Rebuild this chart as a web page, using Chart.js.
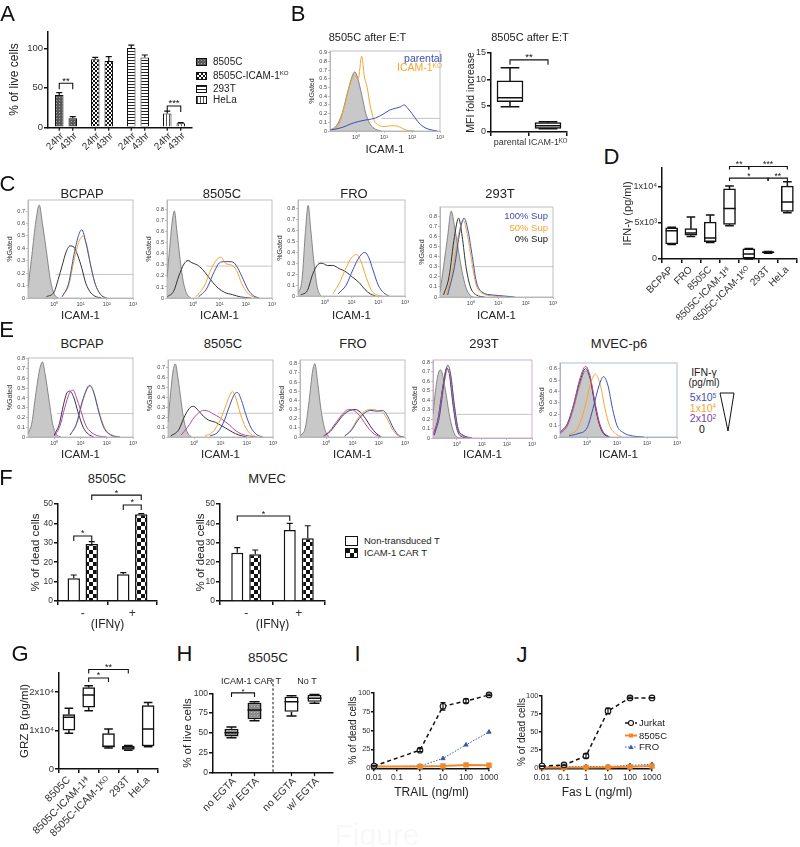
<!DOCTYPE html>
<html><head><meta charset="utf-8">
<script src="https://cdn.jsdelivr.net/npm/chart.js@4.4.1/dist/chart.umd.min.js"></script>
<style>
html,body{margin:0;padding:0;background:#fff}
body{position:relative;width:800px;height:847px;overflow:hidden;font-family:"Liberation Sans",Arial,Helvetica,sans-serif;color:#222}
canvas{position:absolute}
.t{position:absolute;white-space:nowrap;line-height:1;transform:translate(-50%,-50%)}
.r{position:absolute;white-space:nowrap;line-height:1;transform:translate(-100%,-50%)}
.l{position:absolute;white-space:nowrap;line-height:1;transform:translate(0,-50%)}
.sw{position:absolute;box-sizing:border-box;border:1px solid #111;image-rendering:pixelated}
sup{font-size:62%;vertical-align:0;position:relative;top:-0.5em}
</style></head><body>
<script>
// ======================= DATA =======================
// Panel A
const aCells = ['8505C', '8505C-ICAM-1ᴷᴼ', '293T', 'HeLa'];
const aLegend = ['8505C', '8505C-ICAM-1<sup>KO</sup>', '293T', 'HeLa'];
const aTimes = ['24hr', '43hr'];
const aLive24 = [41, 86, 100.5, 17.5];
const aLive43 = [11.4, 84, 88.5, 5];
const aErr24 = [3, 2.5, 3.5, 3];
const aErr43 = [2, 5.5, 3, 1];
const aSig = [['**', 0, 55.7], ['***', 3, 27]];
const aTicks = [0, 50, 100];

// Histogram axis ticks
const hXT = [0, 1, 2, 3];
const hXL = ['10⁰', '10¹', '10²', '10³'];
const hYT = [0, 0.1, 0.2, 0.3, 0.4, 0.5, 0.6, 0.7, 0.8, 0.9];
const hYL = ['0', '0.1', '0.2', '0.3', '0.4', '0.5', '0.6', '0.7', '0.8', '0.9'];

// Panel B histogram  [log10 ICAM-1, %Gated]
const bIso = [[-0.93,0.01],[-0.7,0.06],[-0.5,0.2],[-0.3,0.45],[-0.15,0.62],[-0.05,0.68],[0.05,0.62],[0.2,0.42],[0.35,0.2],[0.5,0.08],[0.7,0.02],[0.9,0]];
const bKO = [[-0.93,0.01],[-0.6,0.08],[-0.4,0.3],[-0.2,0.55],[-0.05,0.64],[0.08,0.6],[0.2,0.86],[0.3,0.62],[0.4,0.5],[0.5,0.3],[0.65,0.12],[0.8,0.07],[1.0,0.05],[1.2,0.06],[1.4,0.06],[1.6,0.04],[1.8,0.01],[2.1,0]];
const bPar = [[-0.93,0.01],[-0.5,0.04],[-0.2,0.08],[0.1,0.11],[0.4,0.13],[0.7,0.15],[1.0,0.2],[1.2,0.24],[1.4,0.26],[1.6,0.28],[1.72,0.3],[1.85,0.26],[2.0,0.2],[2.2,0.11],[2.4,0.05],[2.6,0.02],[2.9,0]];
const bGate = [0.9, 0.145];

// Panel B box plot (MFI fold increase)
const bCats = ['parental', 'ICAM-1ᴷᴼ'];
const bMin = [4.8, 0.6];
const bQ1 = [5.75, 0.7];
const bMed = [6.5, 1.2];
const bQ3 = [9.7, 1.77];
const bMax = [12.2, 1.95];
const bTicks = [0, 5, 10, 15];

// Panel C histograms (0%, 50%, 100% Sup)
const cbIso = [[-1,0.08],[-0.85,0.35],[-0.7,0.62],[-0.57,0.75],[-0.45,0.6],[-0.3,0.38],[-0.15,0.15],[0,0.03],[0.15,0]];
const cb0 = [[-0.3,0.01],[0,0.05],[0.15,0.15],[0.3,0.26],[0.45,0.37],[0.6,0.42],[0.75,0.41],[0.9,0.34],[1.05,0.24],[1.2,0.12],[1.4,0.04],[1.6,0.01],[1.8,0]];
const cb50 = [[0.3,0.01],[0.55,0.1],[0.75,0.3],[0.95,0.46],[1.1,0.5],[1.25,0.42],[1.4,0.25],[1.6,0.09],[1.8,0.02],[2.0,0]];
const cb100 = [[0.3,0.01],[0.55,0.12],[0.75,0.35],[0.95,0.52],[1.05,0.55],[1.2,0.45],[1.35,0.3],[1.55,0.12],[1.8,0.02],[2.0,0]];
const c8Iso = [[-1,0.18],[-0.9,0.45],[-0.8,0.7],[-0.72,0.79],[-0.62,0.6],[-0.5,0.35],[-0.38,0.15],[-0.25,0.04],[-0.1,0]];
const c80 = [[-1,0.01],[-0.75,0.06],[-0.55,0.2],[-0.35,0.31],[-0.2,0.34],[-0.05,0.32],[0.15,0.3],[0.35,0.26],[0.55,0.2],[0.75,0.14],[0.95,0.09],[1.2,0.05],[1.5,0.03],[1.8,0.01],[2.2,0]];
const c850 = [[0.1,0.01],[0.4,0.1],[0.7,0.27],[0.9,0.35],[1.05,0.37],[1.25,0.31],[1.45,0.3],[1.65,0.25],[1.85,0.13],[2.05,0.05],[2.3,0.01],[2.5,0]];
const c8100 = [[0.2,0.01],[0.5,0.08],[0.8,0.24],[1.0,0.32],[1.2,0.33],[1.4,0.33],[1.55,0.32],[1.7,0.27],[1.9,0.17],[2.1,0.07],[2.3,0.02],[2.5,0]];
const cfIso = [[-1,0.02],[-0.85,0.15],[-0.72,0.6],[-0.62,0.83],[-0.52,0.6],[-0.4,0.3],[-0.28,0.08],[-0.15,0]];
const cf0 = [[-0.9,0.01],[-0.65,0.05],[-0.45,0.2],[-0.25,0.29],[-0.1,0.3],[0.1,0.28],[0.3,0.28],[0.55,0.25],[0.8,0.22],[1.05,0.17],[1.3,0.12],[1.5,0.06],[1.7,0.02],[1.9,0]];
const cf50 = [[0.3,0.02],[0.55,0.12],[0.8,0.26],[1.0,0.35],[1.2,0.38],[1.35,0.32],[1.55,0.17],[1.75,0.05],[1.95,0.01],[2.15,0]];
const cf100 = [[0.5,0.02],[0.8,0.1],[1.05,0.24],[1.3,0.36],[1.5,0.4],[1.65,0.35],[1.8,0.24],[2.0,0.1],[2.2,0.03],[2.4,0]];
const ctIso = [[-1.13,0.05],[-1.0,0.3],[-0.85,0.6],[-0.72,0.85],[-0.6,0.7],[-0.45,0.45],[-0.3,0.22],[-0.15,0.07],[0,0.01],[0.1,0]];
const ct0 = [[-1.0,0.02],[-0.8,0.2],[-0.6,0.6],[-0.45,0.78],[-0.32,0.6],[-0.18,0.3],[-0.02,0.1],[0.2,0.02],[0.5,0]];
const ct50 = [[-0.9,0.02],[-0.65,0.3],[-0.45,0.62],[-0.28,0.76],[-0.12,0.6],[0.03,0.35],[0.18,0.13],[0.4,0.04],[0.8,0.01],[1.2,0]];
const ct100 = [[-0.85,0.02],[-0.6,0.3],[-0.4,0.65],[-0.25,0.78],[-0.1,0.65],[0.05,0.4],[0.2,0.15],[0.4,0.05],[0.8,0.02],[1.2,0.01],[1.6,0]];

// Panel D box plot (IFN-γ)
const dCats = ['BCPAP', 'FRO', '8505C', '8505C-ICAM-1ᴴⁱ', '8505C-ICAM-1ᴷᴼ', '293T', 'HeLa'];
const dMin = [2000, 3100, 2300, 4600, 0, 800, 6400];
const dQ1 = [2100, 3300, 2400, 4800, 100, 850, 6600];
const dMed = [3900, 3600, 2900, 7000, 700, 950, 7900];
const dQ3 = [4300, 4200, 5100, 9700, 1400, 1000, 10100];
const dMax = [4400, 5800, 6100, 10100, 1450, 1050, 10700];
const dTicks = [0, 5000, 10000];
const dTickLabels = ['0', '5x10³', '1x10⁴'];

// Panel E histograms (IFN-γ 0, 2x10², 1x10⁴, 5x10⁵ pg/ml)
const ebIso = [[-1,0.03],[-0.85,0.15],[-0.7,0.45],[-0.55,0.7],[-0.45,0.77],[-0.35,0.65],[-0.2,0.38],[-0.05,0.12],[0.1,0.02],[0.25,0]];
const eb0 = [[0,0.02],[0.2,0.14],[0.35,0.33],[0.5,0.46],[0.6,0.47],[0.75,0.4],[0.9,0.26],[1.1,0.1],[1.3,0.03],[1.5,0]];
const eb2 = [[0,0.01],[0.2,0.1],[0.4,0.3],[0.58,0.45],[0.72,0.48],[0.85,0.4],[1.0,0.28],[1.2,0.12],[1.4,0.05],[1.7,0.01],[2.0,0]];
const eb4 = [[0.6,0.02],[0.85,0.13],[1.05,0.33],[1.25,0.49],[1.38,0.52],[1.55,0.42],[1.75,0.22],[1.95,0.08],[2.2,0.02],[2.5,0]];
const eb5 = [[0.6,0.02],[0.85,0.14],[1.05,0.35],[1.25,0.5],[1.35,0.53],[1.5,0.46],[1.7,0.25],[1.9,0.09],[2.15,0.02],[2.5,0]];
const e8Iso = [[-1,0.15],[-0.9,0.45],[-0.8,0.68],[-0.72,0.74],[-0.62,0.6],[-0.5,0.36],[-0.38,0.15],[-0.25,0.04],[-0.1,0]];
const e80 = [[-0.9,0.01],[-0.6,0.07],[-0.35,0.22],[-0.15,0.3],[-0.02,0.31],[0.15,0.27],[0.35,0.21],[0.55,0.17],[0.8,0.15],[1.0,0.12],[1.2,0.09],[1.45,0.05],[1.7,0.02],[2.0,0]];
const e82 = [[-0.5,0.02],[-0.25,0.1],[0,0.2],[0.2,0.25],[0.35,0.27],[0.55,0.26],[0.75,0.23],[0.95,0.2],[1.15,0.16],[1.35,0.12],[1.55,0.07],[1.8,0.03],[2.1,0.01],[2.4,0]];
const e84 = [[0.4,0.01],[0.7,0.05],[0.95,0.15],[1.15,0.28],[1.35,0.42],[1.45,0.46],[1.58,0.4],[1.75,0.24],[1.95,0.1],[2.15,0.03],[2.4,0]];
const e85 = [[0.6,0.01],[0.9,0.05],[1.15,0.17],[1.35,0.32],[1.55,0.44],[1.65,0.45],[1.8,0.37],[1.95,0.24],[2.15,0.1],[2.35,0.03],[2.6,0]];
const efIso = [[-1,0.01],[-0.8,0.1],[-0.65,0.4],[-0.52,0.72],[-0.43,0.8],[-0.33,0.6],[-0.2,0.3],[-0.05,0.08],[0.1,0]];
const ef0 = [[-0.1,0.01],[0.15,0.06],[0.4,0.15],[0.65,0.24],[0.9,0.29],[1.1,0.3],[1.3,0.27],[1.5,0.2],[1.7,0.11],[1.9,0.04],[2.1,0]];
const ef2 = [[-0.1,0.01],[0.15,0.07],[0.4,0.17],[0.65,0.26],[0.85,0.3],[1.05,0.29],[1.25,0.24],[1.45,0.16],[1.65,0.08],[1.9,0.02],[2.1,0]];
const ef4 = [[0.7,0.01],[0.95,0.08],[1.2,0.2],[1.45,0.28],[1.7,0.3],[1.95,0.29],[2.15,0.27],[2.35,0.18],[2.55,0.07],[2.75,0.01],[2.9,0]];
const ef5 = [[0.7,0.01],[0.95,0.07],[1.2,0.18],[1.45,0.26],[1.7,0.29],[1.95,0.28],[2.15,0.29],[2.35,0.22],[2.55,0.1],[2.75,0.02],[2.95,0]];
const etIso = [[-0.95,0.25],[-0.85,0.5],[-0.72,0.7],[-0.64,0.72],[-0.55,0.65],[-0.42,0.45],[-0.28,0.22],[-0.12,0.06],[0,0.01],[0.15,0]];
const et0 = [[-0.95,0.03],[-0.75,0.2],[-0.55,0.55],[-0.4,0.74],[-0.3,0.68],[-0.15,0.35],[0,0.1],[0.15,0.02],[0.4,0]];
const et2 = [[-0.95,0.03],[-0.75,0.2],[-0.55,0.55],[-0.4,0.73],[-0.3,0.7],[-0.15,0.38],[0,0.12],[0.2,0.03],[0.5,0]];
const et4 = [[-0.9,0.03],[-0.7,0.22],[-0.5,0.58],[-0.36,0.72],[-0.25,0.66],[-0.1,0.35],[0.05,0.1],[0.25,0.03],[0.6,0]];
const et5 = [[-0.9,0.03],[-0.7,0.22],[-0.5,0.6],[-0.36,0.77],[-0.25,0.68],[-0.1,0.35],[0.05,0.1],[0.25,0.03],[0.6,0]];
const emIso = [[-0.9,0.03],[-0.65,0.1],[-0.45,0.25],[-0.25,0.45],[-0.05,0.58],[0.1,0.52],[0.25,0.33],[0.4,0.14],[0.55,0.04],[0.75,0]];
const em0 = [[-0.9,0.04],[-0.65,0.12],[-0.45,0.28],[-0.25,0.48],[-0.05,0.6],[0.1,0.52],[0.25,0.3],[0.4,0.12],[0.55,0.03],[0.75,0]];
const em2 = [[-0.9,0.03],[-0.65,0.11],[-0.45,0.28],[-0.25,0.5],[-0.05,0.62],[0.1,0.54],[0.25,0.32],[0.4,0.13],[0.55,0.04],[0.75,0]];
const em4 = [[-0.6,0.02],[-0.3,0.08],[-0.05,0.28],[0.12,0.47],[0.28,0.55],[0.45,0.45],[0.6,0.25],[0.75,0.1],[0.95,0.03],[1.15,0]];
const em5 = [[-0.6,0.01],[-0.3,0.03],[0,0.08],[0.2,0.25],[0.4,0.45],[0.55,0.53],[0.7,0.45],[0.85,0.25],[1.0,0.1],[1.2,0.04],[1.5,0.01],[1.9,0]];

// Panel F (% of dead cells)
const fCats = ['-', '+'];
const f8Non = [11.7, 13.8];
const f8NonErr = [1.7, 0.8];
const f8Car = [29.4, 44.7];
const f8CarErr = [1.2, 0.3];
const fMvNon = [24.9, 36.6];
const fMvNonErr = [2.6, 3.4];
const fMvCar = [24.1, 32.3];
const fMvCarErr = [2.2, 6.5];
const fTicks = [0, 10, 20, 30, 40, 50];

// Panel G box plot (GRZ B)
const gCats = ['8505C', '8505C-ICAM-1ᴴⁱ', '8505C-ICAM-1ᴷᴼ', '293T', 'HeLa'];
const gMin = [9300, 15200, 5500, 4900, 5800];
const gQ1 = [10100, 16100, 5700, 5100, 6000];
const gMed = [13500, 19300, 5900, 5500, 10400];
const gQ3 = [14200, 21200, 9200, 5900, 16500];
const gMax = [15800, 21700, 10400, 6100, 17300];
const gTicks = [0, 10000, 20000];
const gTickLabels = ['0', '1x10⁴', '2x10⁴'];

// Panel H box plot (% of live cells)
const hGroups = ['ICAM-1 CAR T', 'No T'];
const hConds = ['no EGTA', 'w/ EGTA'];
const hNoMin = [44, 71.4], hNoQ1 = [45.5, 76.8], hNoMed = [50.4, 89.4], hNoQ3 = [55.5, 95.7], hNoMax = [57.6, 97];
const hWMin = [65.5, 87.4], hWQ1 = [67.2, 89.4], hWMed = [78.9, 93.7], hWQ3 = [88.1, 97.9], hWMax = [89.5, 98.5];
const hTicks = [0, 25, 50, 75, 100];

// Panels I, J (% of dead cells vs dose)
const doseTicks = [0.01, 0.1, 1, 10, 100, 1000];
const doseTickLabels = ['0.01', '0.1', '1', '10', '100', '1000'];
const pctTicks = [0, 25, 50, 75, 100];
const iDoses = [0.01, 1, 10, 100, 1000];
const iJurkat = [3, 24, 82, 89, 97];
const iJurkatErr = [1, 2, 5, 2.5, 1];
const i8505 = [2.5, 2.5, 3, 4.5, 4];
const iFRO = [2, 3, 13, 31, 48];
const jDoses = [0.01, 0.1, 1, 10, 100, 1000];
const jJurkat = [3, 4.6, 17, 79, 97, 97];
const jJurkatErr = [0.5, 1, 3, 4, 1, 0.5];
const j8505 = [1, 1, 1.2, 1.5, 2, 3];
const jFRO = [2, 2, 2.5, 2.5, 4, 5.5];

// colours
const BLUE = '#3a4fb8', ORANGE = '#f4a52e', BLACKL = '#333333', PURPLE = '#b545a8';

// ======================= HELPERS =======================
Chart.defaults.font.family = '"Liberation Sans", Arial, Helvetica, sans-serif';
Chart.defaults.color = '#333';

function T(html, x, y, size, opt) {
  opt = opt || {};
  const d = document.createElement('div');
  d.className = opt.cls || 't';
  d.innerHTML = html;
  d.style.left = x + 'px'; d.style.top = y + 'px'; d.style.fontSize = size + 'px';
  if (opt.color) d.style.color = opt.color;
  document.body.appendChild(d);
  return d;
}
function mkPat(w, h, fn) {
  const c = document.createElement('canvas'); c.width = w; c.height = h;
  const g = c.getContext('2d'); fn(g);
  return { pat: g.createPattern(c, 'repeat'), url: c.toDataURL() };
}
const P8505 = mkPat(3, 3, g => { g.fillStyle = '#5a5a5a'; g.fillRect(0, 0, 3, 3); g.fillStyle = '#a5a5a5'; g.fillRect(1, 1, 1, 1); });
const PKO = mkPat(4, 4, g => { g.fillStyle = '#fff'; g.fillRect(0, 0, 4, 4); g.fillStyle = '#111'; g.fillRect(0, 0, 2, 2); g.fillRect(2, 2, 2, 2); });
const P293 = mkPat(1, 3, g => { g.fillStyle = '#fff'; g.fillRect(0, 0, 1, 3); g.fillStyle = '#222'; g.fillRect(0, 0, 1, 1); });
const PHELA = mkPat(3, 1, g => { g.fillStyle = '#fff'; g.fillRect(0, 0, 3, 1); g.fillStyle = '#555'; g.fillRect(0, 0, 1, 1); });
const PCHK = mkPat(8, 8, g => { g.fillStyle = '#fff'; g.fillRect(0, 0, 8, 8); g.fillStyle = '#111'; g.fillRect(0, 0, 4, 4); g.fillRect(4, 4, 4, 4); });
const PDOT = mkPat(3, 3, g => { g.fillStyle = '#8a8a8a'; g.fillRect(0, 0, 3, 3); g.fillStyle = '#c2c2c2'; g.fillRect(1, 1, 1, 1); });
const aPats = [P8505, PKO, P293, PHELA];

function mk(box, plot, cfg) {
  const c = document.createElement('canvas');
  c.width = box[2]; c.height = box[3];
  c.style.left = box[0] + 'px'; c.style.top = box[1] + 'px';
  c.style.width = box[2] + 'px'; c.style.height = box[3] + 'px';
  document.body.appendChild(c);
  const l = plot[0] - box[0], t = plot[1] - box[1], r = box[0] + box[2] - plot[2], b = box[1] + box[3] - plot[3];
  const o = cfg.options;
  o.responsive = false; o.maintainAspectRatio = false; o.animation = false; o.devicePixelRatio = 1;
  o.layout = { padding: { left: 0, top: t, right: r, bottom: 0 } };
  o.plugins = Object.assign({ legend: { display: false }, tooltip: { enabled: false } }, o.plugins || {});
  o.scales.x.afterFit = s => { s.height = b; s.paddingLeft = 0; s.paddingRight = 0; s.paddingTop = 0; s.paddingBottom = 0; };
  o.scales.y.afterFit = s => { s.width = l; s.paddingLeft = 0; s.paddingRight = 0; s.paddingTop = 0; s.paddingBottom = 0; };
  return new Chart(c, cfg);
}
function gp(o) {
  const s = {
    border: { display: true, color: '#111', width: 1.5 },
    grid: { drawOnChartArea: false, drawTicks: true, tickLength: o.tlen || 4, color: '#111', lineWidth: 1.5 },
    ticks: { color: '#333', font: { size: o.tf || 10 }, padding: o.tp == null ? 2 : o.tp, autoSkip: false, includeBounds: false,
             maxRotation: o.rot || 0, minRotation: o.rot || 0 }
  };
  if (o.title) s.title = { display: true, text: o.title, font: { size: o.ts || 12 }, color: '#222', padding: 0 };
  ['type', 'min', 'max', 'offset'].forEach(k => { if (o[k] !== undefined) s[k] = o[k]; });
  if (o.tv) s.afterBuildTicks = sc => { sc.ticks = o.tv.map(v => ({ value: v })); };
  if (o.tl) s.ticks.callback = (v, i) => o.tl[i];
  if (o.noTicks) { s.ticks.display = false; s.grid.drawTicks = false; }
  return s;
}
const errPlugin = { id: 'errbars', afterDatasetsDraw(chart) {
  const ctx = chart.ctx, ys = chart.scales.y;
  chart.data.datasets.forEach((ds, di) => {
    if (!ds.errs) return;
    chart.getDatasetMeta(di).data.forEach((el, i) => {
      const e = ds.errs[i]; if (!e) return;
      const raw = ds.data[i]; const v = (raw && typeof raw === 'object') ? raw.y : raw;
      const top = ys.getPixelForValue(v + e);
      const bot = ds.errBoth ? ys.getPixelForValue(v - e) : el.y;
      const cw = ds.capW || 3;
      ctx.save(); ctx.strokeStyle = ds.errColor || '#111'; ctx.lineWidth = ds.errLW || 1.2;
      ctx.beginPath(); ctx.moveTo(el.x, bot); ctx.lineTo(el.x, top);
      ctx.moveTo(el.x - cw, top); ctx.lineTo(el.x + cw, top);
      if (ds.errBoth) { ctx.moveTo(el.x - cw, bot); ctx.lineTo(el.x + cw, bot); }
      ctx.stroke(); ctx.restore();
    });
  });
}};
const boxPlugin = { id: 'boxwhisk', afterDatasetsDraw(chart) {
  const ctx = chart.ctx, ys = chart.scales.y;
  chart.data.datasets.forEach((ds, di) => {
    if (!ds.stats) return;
    chart.getDatasetMeta(di).data.forEach((el, i) => {
      const q1 = ds.data[i][0], q3 = ds.data[i][1];
      const x = el.x, w = el.width, cap = w * 0.36;
      const p = v => ys.getPixelForValue(v);
      const mn = ds.stats.min[i], md = ds.stats.med[i], mx = ds.stats.max[i];
      ctx.save(); ctx.strokeStyle = '#111'; ctx.lineWidth = 1.5;
      ctx.beginPath();
      ctx.moveTo(x, p(q3)); ctx.lineTo(x, p(mx));
      ctx.moveTo(x - cap, p(mx)); ctx.lineTo(x + cap, p(mx));
      ctx.moveTo(x, p(q1)); ctx.lineTo(x, p(mn));
      ctx.moveTo(x - cap, p(mn)); ctx.lineTo(x + cap, p(mn));
      ctx.moveTo(x - w / 2, p(md)); ctx.lineTo(x + w / 2, p(md));
      ctx.stroke(); ctx.restore();
    });
  });
}};
function sig(items, fs) {
  return { id: 'sigbrackets', afterDraw(chart) {
    const ctx = chart.ctx, ys = chart.scales.y;
    items.forEach(it => {
      const ea = chart.getDatasetMeta(it[1]).data[it[2]], eb = chart.getDatasetMeta(it[3]).data[it[4]];
      const yp = ys.getPixelForValue(it[5]); const d = it[6] == null ? 5 : it[6];
      ctx.save(); ctx.strokeStyle = '#111'; ctx.lineWidth = 1.1;
      ctx.beginPath(); ctx.moveTo(ea.x, yp + d); ctx.lineTo(ea.x, yp); ctx.lineTo(eb.x, yp); ctx.lineTo(eb.x, yp + d); ctx.stroke();
      ctx.fillStyle = '#111'; ctx.font = (fs || 9) + 'px "Liberation Sans", Arial, sans-serif';
      ctx.textAlign = 'center'; ctx.textBaseline = 'bottom';
      ctx.fillText(it[0], (ea.x + eb.x) / 2, yp + 2.5);
      ctx.restore();
    });
  }};
}
function barLabels(fs, dx, dy) {
  return { id: 'barlabels', afterDraw(chart) {
    const ctx = chart.ctx, bottom = chart.chartArea.bottom;
    chart.data.datasets.forEach((ds, di) => {
      if (!ds.tickLabels) return;
      chart.getDatasetMeta(di).data.forEach((el, i) => {
        ctx.save();
        ctx.strokeStyle = '#111'; ctx.lineWidth = 1.2;
        ctx.beginPath(); ctx.moveTo(el.x, bottom); ctx.lineTo(el.x, bottom + 3.5); ctx.stroke();
        ctx.translate(el.x + dx, bottom + dy); ctx.rotate(-Math.PI / 4);
        ctx.font = fs + 'px "Liberation Sans", Arial, sans-serif'; ctx.fillStyle = '#333';
        ctx.textAlign = 'right'; ctx.textBaseline = 'middle';
        ctx.fillText(ds.tickLabels[i], 0, 0);
        ctx.restore();
      });
    });
  }};
}
function frame(col) {
  return { id: 'frame', afterDraw(chart) {
    const a = chart.chartArea, ctx = chart.ctx;
    ctx.save(); ctx.strokeStyle = col; ctx.lineWidth = 0.8;
    ctx.strokeRect(a.left, a.top, a.right - a.left, a.bottom - a.top); ctx.restore();
  }};
}
const hDivider = { id: 'hdivider', afterDraw(chart) {
  const xs = chart.scales.x, ctx = chart.ctx, a = chart.chartArea;
  const x = xs.getPixelForValue(0.5);
  ctx.save(); ctx.setLineDash([2.5, 2]); ctx.strokeStyle = '#111'; ctx.lineWidth = 1;
  ctx.beginPath(); ctx.moveTo(x, a.top - 14); ctx.lineTo(x, a.bottom); ctx.stroke(); ctx.restore();
}};

function hist(box, plot, xmin, ymax, nY, sets, gate, frameCol) {
  const ds = sets.map((s, k) => {
    const pts = s[0], col = s[1], iso = col === 'iso';
    return { data: pts.map(p => ({ x: p[0], y: p[1] })), borderColor: iso ? '#6e6e6e' : col,
      backgroundColor: iso ? '#c8c8c8' : 'rgba(0,0,0,0)', fill: iso ? 'origin' : false,
      borderWidth: iso ? 0.8 : 1, pointRadius: 0, cubicInterpolationMode: 'monotone', order: iso ? 50 : k + 1 };
  });
  if (gate) ds.push({ data: [{ x: gate[0], y: gate[1] }, { x: 3, y: gate[1] }], borderColor: '#b5b5b5', borderWidth: 0.8, pointRadius: 0, fill: false, order: 60 });
  const axisCommon = () => ({
    grid: { drawOnChartArea: false, drawTicks: true, tickLength: 2, color: '#999', lineWidth: 0.6 },
    border: { display: true, color: '#aaa', width: 0.8 }
  });
  const x = Object.assign(axisCommon(), { type: 'linear', min: xmin, max: 3,
    afterBuildTicks: s => { s.ticks = hXT.map(v => ({ value: v })); },
    ticks: { callback: (v, i) => hXL[i], font: { size: 5.5 }, color: '#444', padding: 1, maxRotation: 0, minRotation: 0, autoSkip: false },
    title: { display: true, text: 'ICAM-1', font: { size: 11.5 }, color: '#222', padding: 0 } });
  const y = Object.assign(axisCommon(), { min: 0, max: ymax,
    afterBuildTicks: s => { s.ticks = hYT.slice(0, nY).map(v => ({ value: v })); },
    ticks: { callback: (v, i) => hYL[i], font: { size: 5.5 }, color: '#444', padding: 1, autoSkip: false },
    title: { display: true, text: '%Gated', font: { size: 7 }, color: '#333', padding: 0 } });
  return mk(box, plot, { type: 'line', data: { datasets: ds }, options: { scales: { x: x, y: y } }, plugins: [frame(frameCol || '#b0b0b0')] });
}

// ======================= PANEL A =======================
mk([7, 18, 195, 145], [48, 31.7, 192, 127.3], {
  type: 'bar',
  data: { labels: aCells, datasets: [
    { data: aLive24, errs: aErr24, tickLabels: aCells.map(() => aTimes[0]), backgroundColor: aPats.map(p => p.pat), borderColor: '#111', borderWidth: 1, categoryPercentage: 0.75, barPercentage: 0.63 },
    { data: aLive43, errs: aErr43, tickLabels: aCells.map(() => aTimes[1]), backgroundColor: aPats.map(p => p.pat), borderColor: '#111', borderWidth: 1, categoryPercentage: 0.75, barPercentage: 0.63 }
  ]},
  options: { scales: {
    x: gp({ noTicks: true }),
    y: gp({ min: 0, max: 121, tv: aTicks, tf: 9.5, tp: 1, title: '% of live cells', ts: 12 })
  }},
  plugins: [errPlugin, barLabels(10, 3, 7), sig(aSig.map(s => [s[0], 0, s[1], 1, s[1], s[2], 6]), 9.5)]
});

// ======================= PANEL B =======================
hist([308, 45, 137, 112], [330, 51, 440, 131], -0.93, 0.92, 10,
  [[bPar, BLUE], [bKO, ORANGE], [bIso, 'iso']], bGate);
mk([465, 45, 110, 105], [491, 53, 567, 132], {
  type: 'bar',
  data: { labels: bCats, datasets: [
    { data: bQ1.map((q, i) => [q, bQ3[i]]), stats: { min: bMin, med: bMed, max: bMax }, backgroundColor: '#fff', borderColor: '#111', borderWidth: 1.5, borderSkipped: false, barThickness: 26 }
  ]},
  options: { scales: {
    x: gp({ tf: 9, tp: 1 }),
    y: gp({ min: 0, max: 15, tv: bTicks, tf: 9, tp: 1, title: 'MFI fold increase', ts: 10.5 })
  }},
  plugins: [boxPlugin, sig([['**', 0, 0, 0, 1, 13.7, 5]], 9.5)]
});

// ======================= PANEL C =======================
hist([6, 195, 131, 128], [28, 200, 133, 298], -1, 0.79, 8, [[cb100, BLUE], [cb50, ORANGE], [cb0, BLACKL], [cbIso, 'iso']], [0.05, 0.19]);
hist([145, 195, 131, 128], [167, 200, 272, 298], -1, 0.89, 9, [[c8100, BLUE], [c850, ORANGE], [c80, BLACKL], [c8Iso, 'iso']], [0.5, 0.29]);
hist([276, 195, 133, 128], [298, 200, 405, 296], -1, 0.88, 9, [[cf100, BLUE], [cf50, ORANGE], [cf0, BLACKL], [cfIso, 'iso']], [-0.25, 0.31]);
hist([418, 195, 139, 128], [440, 207, 553, 297], -1.13, 0.89, 9, [[ct100, BLUE], [ct50, ORANGE], [ct0, BLACKL], [ctIso, 'iso']], [0.0, 0.3]);

// ======================= PANEL D =======================
mk([621, 148, 179, 172], [662, 168, 797, 259], {
  type: 'bar',
  data: { labels: dCats, datasets: [
    { data: dQ1.map((q, i) => [q, dQ3[i]]), stats: { min: dMin, med: dMed, max: dMax }, backgroundColor: '#fff', borderColor: '#111', borderWidth: 1.5, borderSkipped: false, barThickness: 12 }
  ]},
  options: { scales: {
    x: gp({ tf: 10, rot: 45, tp: 1 }),
    y: gp({ min: 0, max: 12600, tv: dTicks, tl: dTickLabels, tf: 9, tp: 1, title: 'IFN-γ (pg/ml)', ts: 11 })
  }},
  plugins: [boxPlugin, sig([['**', 0, 3, 0, 4, 12800, 3], ['***', 0, 4, 0, 6, 12800, 3], ['*', 0, 3, 0, 5, 11200, 3], ['**', 0, 5, 0, 6, 11200, 3]], 8.5)]
});

// ======================= PANEL E =======================
hist([6, 352, 131, 110], [28, 358, 133, 437], -1, 0.81, 9, [[eb5, BLUE], [eb4, ORANGE], [eb2, PURPLE], [eb0, BLACKL], [ebIso, 'iso']], [0.1, 0.24]);
hist([146, 352, 131, 110], [168, 360, 273, 437], -1, 0.78, 8, [[e85, BLUE], [e84, ORANGE], [e82, PURPLE], [e80, BLACKL], [e8Iso, 'iso']], [0.9, 0.24]);
hist([278, 352, 131, 110], [300, 360, 405, 437], -1, 0.84, 9, [[ef5, BLUE], [ef4, ORANGE], [ef2, PURPLE], [ef0, BLACKL], [efIso, 'iso']], [-0.15, 0.26]);
hist([411, 352, 125, 110], [433, 360, 532, 438], -0.95, 0.825, 9, [[et5, BLUE], [et4, ORANGE], [et2, PURPLE], [et0, BLACKL], [etIso, 'iso']], [0.0, 0.25], '#c79ac0');
hist([538, 352, 143, 110], [560, 363, 677, 437], -0.9, 0.65, 7, [[em5, BLUE], [em4, ORANGE], [em2, PURPLE], [em0, BLACKL], [emIso, 'iso']], null, '#9aa8c8');

// ======================= PANEL F =======================
function fChart(box, plot, non, nonErr, car, carErr, cp, bp, sigItems) {
  return mk(box, plot, {
    type: 'bar',
    data: { labels: fCats, datasets: [
      { data: non, errs: nonErr, backgroundColor: '#fff', borderColor: '#111', borderWidth: 1.5, categoryPercentage: cp, barPercentage: bp },
      { data: car, errs: carErr, backgroundColor: PCHK.pat, borderColor: '#111', borderWidth: 1.5, categoryPercentage: cp, barPercentage: bp }
    ]},
    options: { scales: {
      x: Object.assign(gp({ tf: 12, tp: 1 }), { title: { display: true, text: '(IFNγ)', font: { size: 12 }, color: '#222', padding: 0 } }),
      y: gp({ min: 0, max: 50, tv: fTicks, tf: 8.5, tp: 1, title: '% of dead cells', ts: 11.5 })
    }},
    plugins: [errPlugin, sig(sigItems, 9)]
  });
}
fChart([29, 490, 140, 142], [58, 504, 157, 601], f8Non, f8NonErr, f8Car, f8CarErr, 0.727, 0.69,
  [['*', 0, 0, 1, 0, 33.5, 5], ['*', 0, 1, 1, 1, 49.5, 5], ['*', 1, 0, 1, 1, 54.6, 5]]);
fChart([194, 490, 142, 142], [220, 504, 325, 601], fMvNon, fMvNonErr, fMvCar, fMvCarErr, 0.686, 0.667,
  [['*', 0, 0, 0, 1, 43.8, 5]]);

// ======================= PANEL G =======================
mk([18, 660, 150, 187], [59, 673, 158, 769], {
  type: 'bar',
  data: { labels: gCats, datasets: [
    { data: gQ1.map((q, i) => [q, gQ3[i]]), stats: { min: gMin, med: gMed, max: gMax }, backgroundColor: '#fff', borderColor: '#111', borderWidth: 1.5, borderSkipped: false, barThickness: 12 }
  ]},
  options: { scales: {
    x: gp({ tf: 10.5, rot: 45, tp: 1 }),
    y: gp({ min: 0, max: 25000, tv: gTicks, tl: gTickLabels, tf: 9.5, tp: 1, title: 'GRZ B (pg/ml)', ts: 11.5 })
  }},
  plugins: [boxPlugin, sig([['*', 0, 1, 0, 2, 23700, 4], ['**', 0, 1, 0, 3, 25900, 4]], 9)]
});

// ======================= PANEL H =======================
mk([181, 675, 160, 172], [213, 693.3, 333, 772.7], {
  type: 'bar',
  data: { labels: hGroups, datasets: [
    { data: hNoQ1.map((q, i) => [q, hNoQ3[i]]), stats: { min: hNoMin, med: hNoMed, max: hNoMax }, tickLabels: hGroups.map(() => hConds[0]),
      backgroundColor: [PDOT.pat, '#fff'], borderColor: '#111', borderWidth: 1.5, borderSkipped: false, categoryPercentage: 0.767, barPercentage: 0.61 },
    { data: hWQ1.map((q, i) => [q, hWQ3[i]]), stats: { min: hWMin, med: hWMed, max: hWMax }, tickLabels: hGroups.map(() => hConds[1]),
      backgroundColor: [PDOT.pat, '#fff'], borderColor: '#111', borderWidth: 1.5, borderSkipped: false, categoryPercentage: 0.767, barPercentage: 0.61 }
  ]},
  options: { scales: {
    x: gp({ noTicks: true }),
    y: gp({ min: 0, max: 100, tv: hTicks, tf: 8.5, tp: 1, title: '% of live cells', ts: 11.5 })
  }},
  plugins: [boxPlugin, hDivider, barLabels(10.5, 3, 7), sig([['*', 0, 0, 1, 0, 100.5, 4]], 8)]
});

// ======================= PANELS I & J =======================
function doseChart(box, plot, doses, jur, jurErr, c85, fro, xTitle) {
  return mk(box, plot, {
    type: 'line',
    data: { datasets: [
      { data: doses.map((d, i) => ({ x: d, y: jur[i] })), errs: jurErr, errBoth: true, capW: 2.5, borderColor: '#111', borderDash: [4, 3], borderWidth: 1.5,
        pointStyle: 'circle', pointRadius: 2.8, pointBackgroundColor: '#fff', pointBorderColor: '#111', pointBorderWidth: 1.1, clip: 8 },
      { data: doses.map((d, i) => ({ x: d, y: c85[i] })), borderColor: '#f0882a', borderWidth: 2,
        pointStyle: 'rect', pointRadius: 2.4, pointBackgroundColor: '#f0882a', pointBorderColor: '#f0882a', clip: 8 },
      { data: doses.map((d, i) => ({ x: d, y: fro[i] })), borderColor: '#3d55b0', borderDash: [1.5, 1.5], borderWidth: 1,
        pointStyle: 'triangle', pointRadius: 2.4, pointBackgroundColor: '#3d55b0', pointBorderColor: '#3d55b0', clip: 8 }
    ]},
    options: { scales: {
      x: gp({ type: 'logarithmic', min: 0.01, max: 1000, tv: doseTicks, tl: doseTickLabels, tf: 8.5, tp: 1, tlen: 3, title: xTitle, ts: 12 }),
      y: gp({ min: 0, max: 100, tv: pctTicks, tf: 7.5, tp: 0.5, tlen: 3, title: '% of dead cells', ts: 10 })
    }},
    plugins: [errPlugin]
  });
}
doseChart([347, 680, 151, 120], [374, 692.7, 489, 768.3], iDoses, iJurkat, iJurkatErr, i8505, iFRO, 'TRAIL (ng/ml)');
doseChart([516, 680, 145, 120], [542, 695.7, 652, 768.3], jDoses, jJurkat, jJurkatErr, j8505, jFRO, 'Fas L (ng/ml)');

// ======================= TEXT / LEGENDS =======================
[['A', 7.5, 14], ['B', 298, 14], ['C', 7.5, 184], ['D', 611.5, 157], ['E', 6.5, 330], ['F', 6, 478],
 ['G', 20, 654], ['H', 184.5, 654], ['I', 357.5, 654], ['J', 522, 655]].forEach(p => T(p[0], p[1], p[2], 22, { color: '#111' }));

// A legend
aLegend.forEach((name, i) => {
  const yy = [62, 75.5, 88.5, 100][i];
  const s = document.createElement('div'); s.className = 'sw';
  s.style.left = '196px'; s.style.top = (yy - 4) + 'px'; s.style.width = '11px'; s.style.height = '8px';
  s.style.background = 'url(' + aPats[i].url + ') repeat';
  document.body.appendChild(s);
  T(name, 213, yy, 10, { cls: 'l' });
});

// B
T('8505C after E:T', 367.5, 37, 11);
T('8505C after E:T', 530, 37, 11);
T('parental', 442, 58, 10.5, { cls: 'r', color: BLUE });
T('ICAM-1<sup>KO</sup>', 442, 67, 10.5, { cls: 'r', color: ORANGE });

// C
T('BCPAP', 82, 193, 13); T('8505C', 222, 193, 13); T('FRO', 354, 193, 13); T('293T', 500, 193, 13);
T('100% Sup', 548, 215.5, 9.5, { cls: 'r', color: BLUE });
T('50% Sup', 548, 227.5, 9.5, { cls: 'r', color: ORANGE });
T('0% Sup', 548, 239, 9.5, { cls: 'r', color: '#111' });

// E
T('BCPAP', 82, 343, 13); T('8505C', 223, 343, 13); T('FRO', 353, 343, 13); T('293T', 484, 343, 13); T('MVEC-p6', 619, 343, 13);
T('IFN-γ', 704, 372, 10.5); T('(pg/ml)', 704, 383, 10);
T('5x10<sup>5</sup>', 703, 397, 10.5, { color: BLUE });
T('1x10<sup>4</sup>', 703, 407.5, 10.5, { color: ORANGE });
T('2x10<sup>2</sup>', 703, 418, 10.5, { color: '#7d3fa6' });
T('0', 702, 429, 10.5, { color: '#111' });
document.body.insertAdjacentHTML('beforeend', '<svg style="position:absolute;left:718px;top:390px" width="18" height="44"><polygon points="2,3 16,3 10,41" fill="none" stroke="#111" stroke-width="1"/></svg>');

// F
T('8505C', 107, 478, 13); T('MVEC', 267, 478, 13);
(function () {
  const s1 = document.createElement('div'); s1.className = 'sw';
  s1.style.cssText += 'left:345px;top:536px;width:13px;height:10px;background:#fff';
  document.body.appendChild(s1);
  const s2 = document.createElement('div'); s2.className = 'sw';
  s2.style.cssText += 'left:345px;top:548px;width:13px;height:10px;background:url(' + PCHK.url + ') repeat';
  document.body.appendChild(s2);
})();
T('Non-transduced T', 364, 541, 9.5, { cls: 'l' });
T('ICAM-1 CAR T', 364, 553, 9.5, { cls: 'l' });

// H
T('8505C', 268, 658, 13.5);
T('ICAM-1 CAR T', 251, 680.5, 9);
T('No T', 307, 680.5, 9);

// J legend
document.body.insertAdjacentHTML('beforeend',
  '<svg style="position:absolute;left:624px;top:717px" width="14" height="36">' +
  '<line x1="1" y1="6" x2="13" y2="6" stroke="#111" stroke-width="1.3" stroke-dasharray="3,2"/>' +
  '<circle cx="7" cy="6" r="2.5" fill="#fff" stroke="#111" stroke-width="1.1"/>' +
  '<line x1="1" y1="18.5" x2="13" y2="18.5" stroke="#f0882a" stroke-width="2"/>' +
  '<rect x="5" y="16.5" width="4" height="4" fill="#f0882a"/>' +
  '<line x1="1" y1="30" x2="13" y2="30" stroke="#3d55b0" stroke-width="1" stroke-dasharray="1.5,1.5"/>' +
  '<polygon points="7,27.5 9.5,32 4.5,32" fill="#3d55b0"/></svg>');
T('Jurkat', 639, 723, 9.5, { cls: 'l' });
T('8505C', 639, 735.5, 9.5, { cls: 'l' });
T('FRO', 639, 747, 9.5, { cls: 'l' });

// faint watermark
T('Figure', 377, 835, 30, { color: '#f8f8f8' });
</script>
</body></html>
